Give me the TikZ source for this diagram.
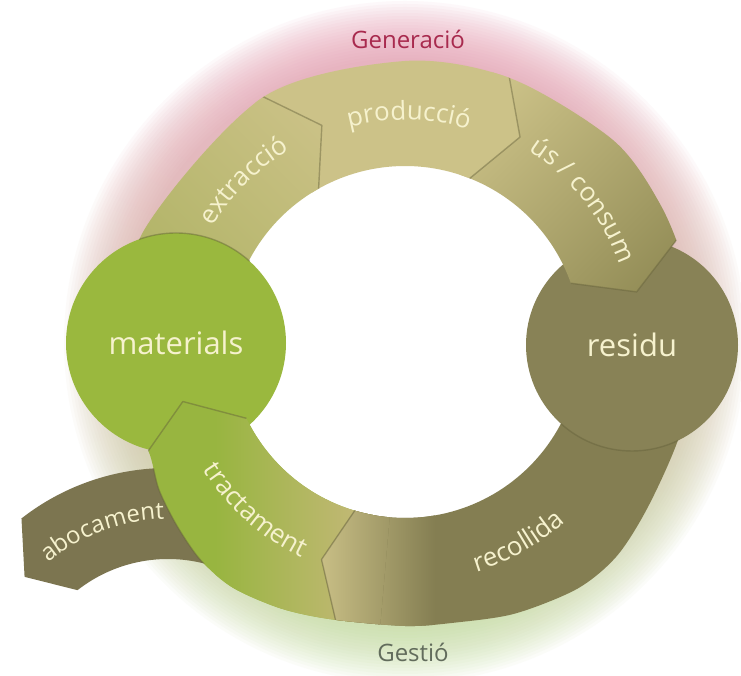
\documentclass[tikz,border=0pt]{standalone}
\usepackage{fontspec}
\setmainfont{Open Sans}
\usetikzlibrary{calc,decorations.text}

\definecolor{cTan}{RGB}{204,194,136}
\definecolor{cTanG}{RGB}{170,176,94}
\definecolor{cOlive}{RGB}{146,140,86}
\definecolor{cDark}{RGB}{132,126,82}
\definecolor{cResidu}{RGB}{136,130,86}
\definecolor{cAboc}{RGB}{124,117,80}
\definecolor{cGreen}{RGB}{154,184,62}
\definecolor{cTrGreen}{RGB}{152,181,64}
\definecolor{cTrTan}{RGB}{196,184,120}
\definecolor{cText}{RGB}{246,242,206}
\definecolor{cEdge}{RGB}{100,96,58}
\definecolor{cPink}{RGB}{232,150,176}
\definecolor{cGlowG}{RGB}{190,220,150}
\definecolor{cGen}{RGB}{168,42,78}
\definecolor{cGes}{RGB}{98,108,92}

\newcommand{\outerpath}{plot[smooth cycle, tension=0.5] coordinates {(0:290) (14:290) (28:290) (44:290) (68:284) (90:281) (120:283) (157:284) (180:283) (195:281) (204:279) (211:287) (219:293) (227:299) (235:300) (245:294) (255:287) (270:284) (280:285) (292:293) (305:301) (315:301) (327:293) (343:290)}}
\newcommand{\segw}[5]{(#1:176) -- (#1:420) arc[start angle=#1, end angle=#2, radius=420] -- ($(#4:#5)!4!(#2:283)$) -- (#4:#5) -- (#3:176) arc[start angle=#3, end angle=#1, radius=176] -- cycle}
\newcommand{\chev}[5]{(#3:176) -- (#4:#5) -- ($(#4:#5)!1.6!(#2:283)$)}
\newcommand{\lblfmt}{\color{cText}\fontsize{26}{26}\selectfont}
\newcommand{\lblfmtb}{\color{cText}\fontsize{24}{24}\selectfont}

\begin{document}
\begin{tikzpicture}[x=1pt,y=1pt,
  edgeline/.style={draw=cEdge, line width=1.4, opacity=0.45, line join=round},
  bigcircle/.style={circle, inner sep=0pt, text=cText, font=\fontsize{31}{31}\selectfont},
  outlabel/.style={font=\fontsize{24}{24}\selectfont}]
\useasboundingbox (0,0) rectangle (741,676);
\fill[white] (0,0) rectangle (741,676);
\begin{scope}[shift={(405,334)}]
% glow
\foreach \k in {0,...,19}{
  \pgfmathsetmacro{\rb}{284+3*\k}
  \shade[top color=cPink, bottom color=cGlowG, fill opacity=0.06, even odd rule] (0,0) circle[radius=260] (0,0) circle[radius=\rb];
}
% abocament
\begin{scope}[shift={(-237,-364)}]
  \fill[cAboc] (128:238) arc[start angle=128, end angle=72, radius=238] -- (72:147) arc[start angle=72, end angle=128, radius=147] -- (138:193) -- cycle;
  \path[decorate, decoration={text along path, text align=center, text={|\lblfmtb|abocament}}] (150:187) arc[start angle=150, end angle=71, radius=187];
\end{scope}
% recollida
\begin{scope}
  \clip \outerpath;
  \clip \segw{0}{-104.4}{-106.6}{-111}{233};
  \fill[cDark] (-450,-450) rectangle (450,450);
  \shade[left color=cTan, right color=cDark] (-90,-400) rectangle (30,0);
\end{scope}
% residu
\node[bigcircle, fill=cResidu, minimum size=212] (residu) at (227,-3) {residu};
\begin{scope}
  \clip \outerpath;
  \draw[edgeline] (residu.center) ++(228:106) arc[start angle=228, end angle=345, radius=106];
\end{scope}
% us / consum
\begin{scope}
  \clip \outerpath;
  \clip \segw{72}{19.7}{19.5}{12.2}{237};
  \shade[top color=cTan, bottom color=cOlive, shading angle=45] (50,30) rectangle (305,290);
\end{scope}
\begin{scope}
  \clip \outerpath;
  \draw[edgeline] \chev{72}{19.7}{19.5}{12.2}{237};
\end{scope}
\path[decorate, decoration={text along path, text align=center, text={|\lblfmt|ús / consum}}] (80:228) arc[start angle=80, end angle=-3, radius=228];
% produccio
\begin{scope}
  \clip \outerpath;
  \clip \segw{122}{68.3}{68.4}{60.7}{235};
  \fill[cTan] (-300,0) rectangle (300,320);
\end{scope}
\begin{scope}
  \clip \outerpath;
  \draw[edgeline] \chev{122}{68.3}{68.4}{60.7}{235};
\end{scope}
\path[decorate, decoration={text along path, text align=center, text={|\lblfmt|producció}}] (130:222) arc[start angle=130, end angle=48, radius=222];
% extraccio
\begin{scope}
  \clip \outerpath;
  \clip \segw{190}{120}{119.4}{111}{232};
  \shade[top color=cTan, bottom color=cTanG, shading angle=-45] (-300,-60) rectangle (-50,290);
\end{scope}
\begin{scope}
  \clip \outerpath;
  \draw[edgeline] \chev{190}{120}{119.4}{111}{232};
\end{scope}
\path[decorate, decoration={text along path, text align=center, text={|\lblfmt|extracció}}] (175:224) arc[start angle=175, end angle=95, radius=224];
% materials
\node[bigcircle, fill=cGreen, minimum size=220] (materials) at (-229,-1) {materials};
\begin{scope}
  \clip \outerpath;
  \draw[edgeline] (materials.center) ++(48:110) arc[start angle=48, end angle=150, radius=110];
\end{scope}
% tractament
\begin{scope}
  \clip \outerpath;
  \clip \segw{260}{203.5}{205.7}{195}{230};
  \fill[cTrGreen] (-320,-320) rectangle (0,-20);
  \fill[cTrTan] (-41,-320) rectangle (20,-20);
  \shade[left color=cTrGreen, right color=cTrTan] (-190,-320) rectangle (-40,-20);
\end{scope}
\begin{scope}
  \clip \outerpath;
  \draw[edgeline] \chev{260}{203.5}{205.7}{195}{230};
\end{scope}
\begin{scope}
  \clip[shift={(-237,-364)}] (128:238) arc[start angle=128, end angle=72, radius=238] -- (72:147) arc[start angle=72, end angle=128, radius=147] -- (138:193) -- cycle;
  \draw[edgeline] \outerpath;
\end{scope}
\path[decorate, decoration={text along path, text align=center, text={|\lblfmt|tractament}}] (188:239) arc[start angle=188, end angle=268.8, radius=239];
% recollida head over tractament
\begin{scope}
  \clip \outerpath;
  \clip \segw{0}{-104.4}{-106.6}{-111}{233};
  \clip (0,0) -- (-95:450) arc[start angle=-95, end angle=-125, radius=450] -- cycle;
  \fill[cDark] (-450,-450) rectangle (450,450);
  \shade[left color=cTan, right color=cDark] (-90,-400) rectangle (30,0);
\end{scope}
\begin{scope}
  \clip \outerpath;
  \draw[edgeline] \chev{0}{-104.4}{-106.6}{-111}{233};
\end{scope}
\path[decorate, decoration={text along path, text align=center, text={|\lblfmt|recollida}}] (-100:241) arc[start angle=-100, end angle=-21, radius=241];
% phase labels
\node[outlabel, text=cGen] (gen) at (3,303) {Generació};
\node[outlabel, text=cGes] (gest) at (8,-310) {Gestió};
\end{scope}
\end{tikzpicture}
\end{document}
